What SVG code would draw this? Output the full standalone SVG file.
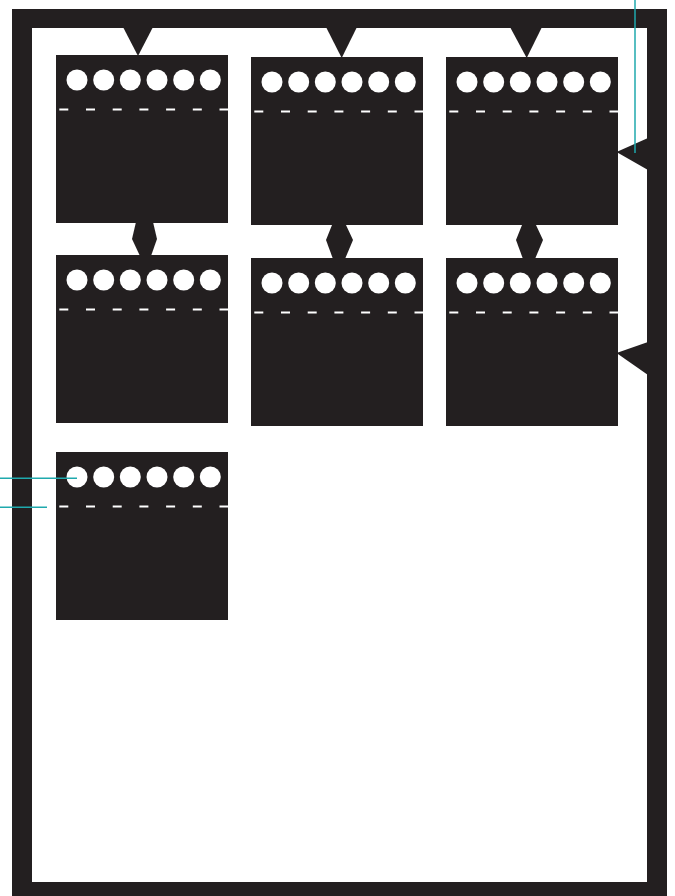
<svg xmlns="http://www.w3.org/2000/svg" width="675" height="896" viewBox="0 0 675 896">
  <defs>
    <style>
      .dark { fill: #231f20; }
      .dot { fill: #ffffff; }
      .dash { stroke: #ffffff; stroke-width: 2; stroke-dasharray: 9 17.7; fill: none; }
      .lead { stroke: #1fa9ad; stroke-width: 1.5; fill: none; }
    </style>
    <g id="card">
      <rect class="dark" x="0" y="0" width="172" height="168"/>
      <circle class="dot" cx="21" cy="25" r="10.5"/>
      <circle class="dot" cx="47.7" cy="25" r="10.5"/>
      <circle class="dot" cx="74.3" cy="25" r="10.5"/>
      <circle class="dot" cx="101" cy="25" r="10.5"/>
      <circle class="dot" cx="127.7" cy="25" r="10.5"/>
      <circle class="dot" cx="154.3" cy="25" r="10.5"/>
      <line class="dash" x1="3.3" y1="54.5" x2="172" y2="54.5"/>
    </g>
  </defs>
  <rect x="0" y="0" width="675" height="896" fill="#ffffff"/>

  <g id="frame">
    <path class="dark" fill-rule="evenodd" d="M12 9 H667 V896 H12 Z M32 28 V882 H647 V28 Z"/>
  </g>

  <g id="connectors">
    <polygon class="dark" points="123,27 153,27 138,56"/>
    <polygon class="dark" points="326,27 357,27 341.7,58"/>
    <polygon class="dark" points="510,27 542,27 526.7,58"/>
    <polygon class="dark" points="136,222 153,222 157,239 151,256 140,256 132,239"/>
    <polygon class="dark" points="332,225 346,225 353,240 345,259 333,259 326,240"/>
    <polygon class="dark" points="522,225 536,225 543,240 535,259 523,259 516,240"/>
    <polygon class="dark" points="648,138 616.5,152 648,170"/>
    <polygon class="dark" points="648,342 616.5,353 648,375"/>
  </g>

  <g id="box1"><use href="#card" x="56" y="55"/></g>
  <g id="box2"><use href="#card" x="251" y="57"/></g>
  <g id="box3"><use href="#card" x="446" y="57"/></g>
  <g id="box4"><use href="#card" x="56" y="255"/></g>
  <g id="box5"><use href="#card" x="251" y="258"/></g>
  <g id="box6"><use href="#card" x="446" y="258"/></g>
  <g id="box7"><use href="#card" x="56" y="452"/></g>

  <g id="leaders">
    <line class="lead" x1="635" y1="0" x2="635" y2="153"/>
    <line class="lead" x1="0" y1="478.3" x2="77" y2="478.3"/>
    <line class="lead" x1="0" y1="507.3" x2="47" y2="507.3"/>
  </g>
</svg>
